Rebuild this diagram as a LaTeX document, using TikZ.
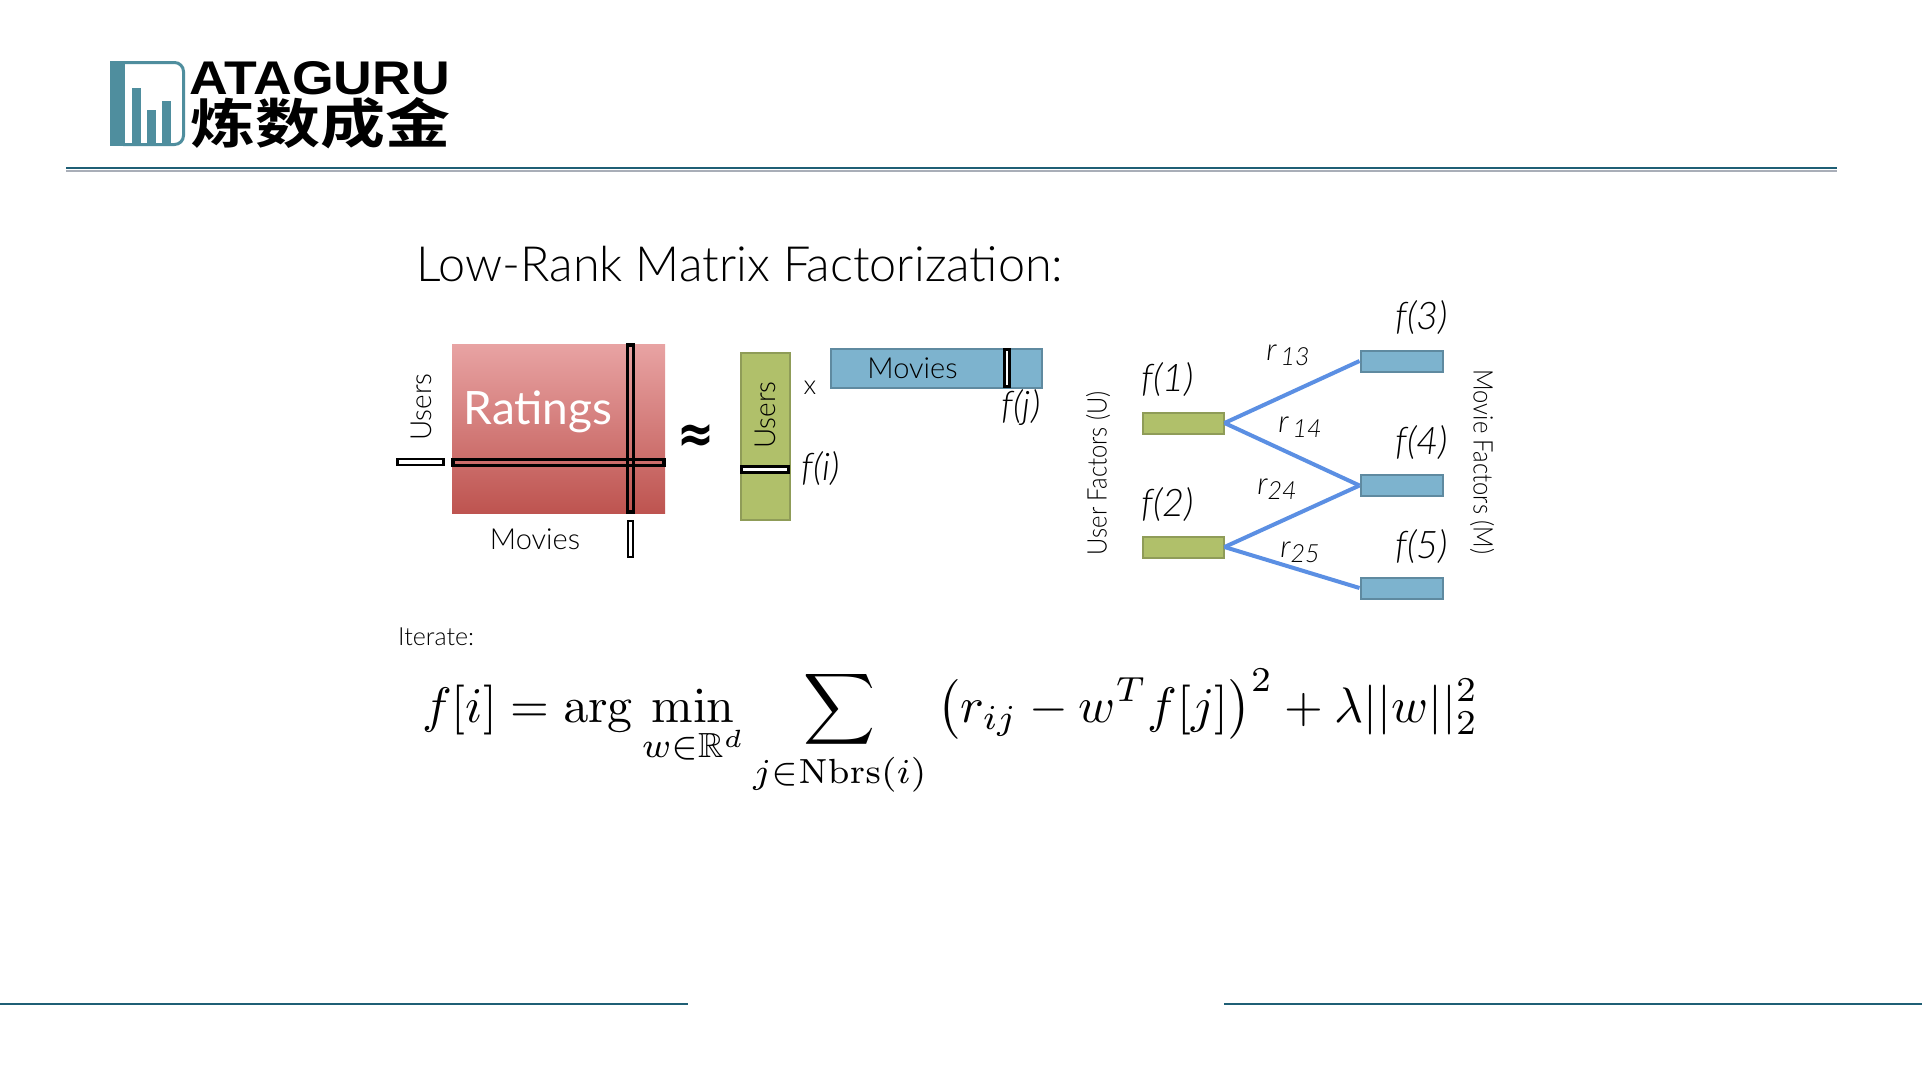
\documentclass[tikz,border=0pt]{standalone}
\usepackage{amsmath,amssymb}
\usepackage[no-math]{fontspec}
\setmainfont{Lato}
\newfontfamily\lightfont{Lato Light}
\newfontfamily\cjkfont{Noto Sans CJK SC}[BoldFont={Noto Sans CJK SC Bold}]
\newfontfamily\logofont{Liberation Sans}
\newfontfamily\symfont{DejaVu Sans}
\definecolor{teal1}{HTML}{4F8E9E}
\definecolor{rule1}{HTML}{1F5F75}
\definecolor{rule2}{HTML}{A9AEB8}
\definecolor{greenbox}{HTML}{B0C06A}
\definecolor{greenedge}{HTML}{8F9C58}
\definecolor{bluebox}{HTML}{7DB3CE}
\definecolor{blueedge}{HTML}{5F8AA0}
\definecolor{link}{HTML}{5B8FE3}
\newcommand{\sz}[1]{\fontsize{#1}{#1}\selectfont}
\newcommand{\narrow}[1]{\scalebox{0.88}[1]{#1}}
\tikzset{
  x=1pt,y=-1pt,
  lbl/.style={inner sep=0pt,text=black},
  strip/.style={draw=black,line width=3.6pt,inner sep=0pt},
  whitestrip/.style={draw=black,line width=2.8pt,inner sep=0pt,fill=white},
  greenrect/.style={draw=greenedge,line width=2pt,fill=greenbox,inner sep=0pt},
  bluerect/.style={draw=blueedge,line width=2pt,fill=bluebox,inner sep=0pt},
  linkline/.style={draw=link,line width=4pt},
  ruleline/.style={draw=rule1,line width=1.6pt},
  barbox/.style={fill=teal1,inner sep=0pt,anchor=south},
  flabel/.style={lbl,font=\lightfont\sz{38}\itshape},
  rlabel/.style={lbl,font=\lightfont\sz{31}\itshape},
  small/.style={lbl,font=\lightfont\sz{29}},
}
\begin{document}
\begin{tikzpicture}
\useasboundingbox[fill=white] (0,0) rectangle (1922,1080);
% logo
\fill[teal1] (110,61) rectangle (125,146);
\draw[teal1,line width=3pt,rounded corners=9pt] (123,62.5) -- (183.5,62.5) -- (183.5,144.5) -- (123,144.5);
\node[barbox,minimum width=9pt,minimum height=56pt] (bara) at (136.5,144) {};
\node[barbox,minimum width=9pt,minimum height=34pt] (barb) at (151.5,144) {};
\node[barbox,minimum width=9pt,minimum height=43pt] (barc) at (166.5,144) {};
\node[inner sep=0pt] (logoa) at (320,78.5) {\resizebox{260pt}{33pt}{\logofont\bfseries ATAGURU}};
\node[inner sep=0pt] (logob) at (320,123) {\resizebox{260pt}{46pt}{\cjkfont\bfseries 炼数成金}};
% rules
\draw[ruleline] (66,168) -- (1837,168);
\draw[draw=rule2,line width=1.6pt] (66,171) -- (1837,171);
\draw[ruleline] (0,1004) -- (688,1004);
\draw[ruleline] (1224,1004) -- (1922,1004);
% title
\node[lbl,anchor=base west] (title) at (416,281) {\resizebox{647pt}{!}{\lightfont\sz{44}Low-Rank Matrix Factorization:}};
% ratings
\node[draw=none,inner sep=0pt,minimum width=213pt,minimum height=169pt,top color={rgb,255:red,232;green,163;blue,163},bottom color={rgb,255:red,190;green,84;blue,80}] (ratings) at (558.5,428.5) {};
\node[lbl,text=white,font=\sz{46}] (ratingstext) at (538,412) {Ratings};
\node[strip,minimum width=6pt,minimum height=167pt] (vstrip) at (630.5,428.5) {};
\node[strip,minimum width=211pt,minimum height=6pt] (hstrip) at (558.5,462.5) {};
\node[whitestrip,minimum width=46pt,minimum height=6pt] (usersmall) at (420.5,462) {};
\node[whitestrip,minimum width=5pt,minimum height=36pt] (moviesmall) at (630.5,539) {};
\node[small,rotate=90] (users1) at (421,407) {\scalebox{0.96}[1]{Users}};
\node[small] (movies1) at (535,539) {Movies};
\node[lbl,text=black] (approx) at (696,438) {\resizebox{37pt}{28pt}{\symfont\bfseries ≈}};
% factor matrices
\node[greenrect,minimum width=49pt,minimum height=167pt] (ubar) at (765,436) {};
\node[small,rotate=90] (users2) at (765,415) {\scalebox{0.96}[1]{Users}};
\node[whitestrip,minimum width=47pt,minimum height=6pt] (fistrip) at (765,469.5) {};
\node[lbl,font=\lightfont\sz{27}] (times) at (810,388) {x};
\node[bluerect,minimum width=211pt,minimum height=39pt] (mbar) at (936,368) {};
\node[small] (movies2) at (912.5,368) {Movies};
\node[whitestrip,minimum width=5pt,minimum height=37pt] (fjstrip) at (1007,368) {};
\node[flabel] (fj) at (1021,408) {f(j)};
\node[flabel] (fi) at (821,469) {f(i)};
% bipartite graph
\node[greenrect,minimum width=81pt,minimum height=21pt] (u1) at (1183,423) {};
\node[greenrect,minimum width=81pt,minimum height=21pt] (u2) at (1183,547) {};
\node[bluerect,minimum width=82pt,minimum height=21pt] (m3) at (1401.5,361) {};
\node[bluerect,minimum width=82pt,minimum height=21pt] (m4) at (1401.5,485.5) {};
\node[bluerect,minimum width=82pt,minimum height=21pt] (m5) at (1401.5,588) {};
\draw[linkline] (u1.east) -- (m3.west);
\draw[linkline] (u1.east) -- (m4.west);
\draw[linkline] (u2.east) -- (m4.west);
\draw[linkline] (u2.east) -- (m5.west);
\node[flabel] (f1) at (1168,380) {f(1)};
\node[flabel] (f2) at (1168,505) {f(2)};
\node[flabel] (f3) at (1422,318) {f(3)};
\node[flabel] (f4) at (1422,443) {f(4)};
\node[flabel] (f5) at (1422,547) {f(5)};
\node[rlabel] (r13) at (1288,355) {r\raisebox{-5pt}{\sz{25}\,13}};
\node[rlabel] (r14) at (1300,427) {r\raisebox{-5pt}{\sz{25}\,14}};
\node[rlabel] (r24) at (1277,489) {r\raisebox{-5pt}{\sz{25}24}};
\node[rlabel] (r25) at (1300,552) {r\raisebox{-5pt}{\sz{25}25}};
\node[small,rotate=90] (uf) at (1098,473) {\narrow{\sz{27}User Factors (U)}};
\node[small,rotate=-90] (mf) at (1482,462) {\narrow{\sz{27}Movie Factors (M)}};
% iterate and formula
\node[lbl,anchor=west,font=\lightfont\sz{25}] (iter) at (398,637) {Iterate:};
\node[lbl,text=black,anchor=base west] (formula) at (422,722) {\resizebox{1056pt}{!}{$\displaystyle f[i]=\arg\min_{w\in\mathbb{R}^d}\sum_{j\in\mathrm{Nbrs}(i)}\mkern4mu\bigl(r_{ij}-w^Tf[j]\bigr)^{2}+\lambda||w||_2^2$}};
\end{tikzpicture}
\end{document}
